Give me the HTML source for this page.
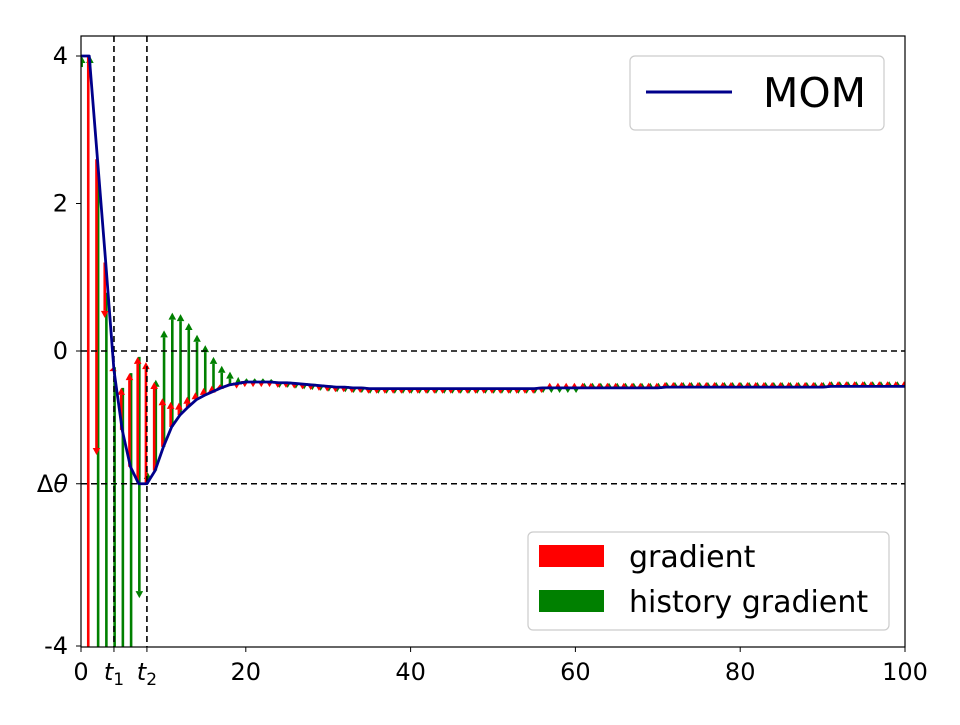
<!DOCTYPE html>
<html><head><meta charset="utf-8"><style>
body{margin:0;background:#fff;}
svg text{font-family:"DejaVu Sans","Liberation Sans",sans-serif;fill:#000;}
</style></head><body>
<svg id="chart" width="960" height="720" viewBox="0 0 960 720" xmlns="http://www.w3.org/2000/svg">
<defs><clipPath id="plotclip"><rect x="81" y="36" width="824" height="611"/></clipPath></defs>
<rect x="0" y="0" width="960" height="720" fill="#fff"/>
<g id="marks" clip-path="url(#plotclip)"></g>
<g id="axes"></g>
</svg>
<script>
const theta=[4,4,2.6,1.2,-0.26,-1.07,-1.57,-1.8,-1.8,-1.62,-1.3,-1.03,-0.87,-0.76,-0.66,-0.6,-0.55,-0.5,-0.46,-0.44,-0.42,
-0.42,-0.42,-0.42,-0.43,-0.43,-0.44,-0.45,-0.46,-0.47,-0.48,
-0.49,-0.49,-0.5,-0.5,-0.51,-0.51,-0.51,-0.51,-0.51,-0.51,
-0.51,-0.51,-0.51,-0.51,-0.51,-0.51,-0.51,-0.51,-0.51,-0.51,
-0.51,-0.51,-0.51,-0.51,-0.51,-0.5,-0.5,-0.5,-0.5,-0.5,
-0.5,-0.5,-0.5,-0.5,-0.5,-0.5,-0.5,-0.5,-0.5,-0.5,
-0.49,-0.49,-0.49,-0.49,-0.49,-0.49,-0.49,-0.49,-0.49,-0.49,
-0.49,-0.49,-0.49,-0.49,-0.49,-0.49,-0.49,-0.49,-0.49,-0.49,
-0.48,-0.48,-0.48,-0.48,-0.48,-0.48,-0.48,-0.48,-0.48,-0.48];
const gradientTo=[null,-5,-1.41,0.45,-0.22,-0.5,-0.3,-0.08,-0.15,-0.42,-0.64,-0.69,-0.7,-0.62,-0.56,-0.5,-0.47,-0.45,-0.44,-0.51,-0.49,
-0.49,-0.49,-0.49,-0.5,-0.5,-0.51,-0.52,-0.53,-0.54,-0.55,
-0.56,-0.56,-0.57,-0.57,-0.58,-0.58,-0.58,-0.58,-0.58,-0.58,
-0.58,-0.58,-0.58,-0.58,-0.58,-0.58,-0.58,-0.58,-0.58,-0.58,
-0.58,-0.58,-0.58,-0.58,-0.58,-0.57,-0.43,-0.43,-0.43,-0.43,
-0.43,-0.43,-0.43,-0.43,-0.43,-0.43,-0.43,-0.43,-0.43,-0.43,
-0.42,-0.42,-0.42,-0.42,-0.42,-0.42,-0.42,-0.42,-0.42,-0.42,
-0.42,-0.42,-0.42,-0.42,-0.42,-0.42,-0.42,-0.42,-0.42,-0.42,
-0.41,-0.41,-0.41,-0.41,-0.41,-0.41,-0.41,-0.41,-0.41,-0.41];
const historyFromEarly=[3.85,3.85,2.35,0.79,-0.22,-0.5,-0.3,-0.08];
const historyTo=[4,4,-5,-5,-5,-5,-5,-3.35,-1.64,-0.39,0.28,0.52,0.5,0.38,0.22,0.08,-0.08,-0.2,-0.28,-0.35,-0.37,
-0.37,-0.37,-0.38,-0.5,-0.5,-0.51,-0.52,-0.53,-0.54,-0.55,
-0.56,-0.56,-0.57,-0.57,-0.58,-0.58,-0.58,-0.58,-0.58,-0.58,
-0.58,-0.58,-0.58,-0.58,-0.58,-0.58,-0.58,-0.58,-0.58,-0.58,
-0.58,-0.58,-0.58,-0.58,-0.58,-0.57,-0.57,-0.57,-0.57,-0.57,
-0.43,-0.43,-0.43,-0.43,-0.43,-0.43,-0.43,-0.43,-0.43,-0.43,
-0.42,-0.42,-0.42,-0.42,-0.42,-0.42,-0.42,-0.42,-0.42,-0.42,
-0.42,-0.42,-0.42,-0.42,-0.42,-0.42,-0.42,-0.42,-0.42,-0.42,
-0.41,-0.41,-0.41,-0.41,-0.41,-0.41,-0.41,-0.41,-0.41,-0.41];
const deltaTheta=-1.8;
const xTickValues=[0,4,8,20,40,60,80,100];
const xTickLabels=["0","t1","t2","20","40","60","80","100"];
const yTickValues=[4,2,0,-1.8,-4];
const yTickLabels=["4","2","0","Δθ","-4"];

const NS="http://www.w3.org/2000/svg";
const X0=81,X1=905,Y0=36,Y1=647;
function sx(v){return X0+v*(X1-X0)/100;}
function sy(v){return 351-v*73.75;}
function mk(tag,attrs,parent){const e=document.createElementNS(NS,tag);for(const k in attrs)e.setAttribute(k,attrs[k]);parent.appendChild(e);return e;}
const marks=document.getElementById('marks');
const axes=document.getElementById('axes');

function arrow(xv,fromV,toV,color,name){
  const x=sx(xv),y1=sy(fromV),y2=sy(toV);
  const dir=y2<y1?-1:1;const hl=7,hw=3.8;
  const g=mk('g',{},marks);
  
  
  const len=Math.abs(y2-y1);
  if(len>hl){mk('line',{x1:x,y1:y1,x2:x,y2:y2-dir*hl,stroke:color,'stroke-width':2.6},g);}
  const hb=len>hl?y2-dir*hl:y1-dir*1;
  mk('polygon',{points:`${x-hw},${hb} ${x+hw},${hb} ${x},${y2}`,fill:color},g);
}
for(let i=0;i<theta.length;i++){
  if(historyTo[i]!==null){
    const f=i<historyFromEarly.length?historyFromEarly[i]:theta[i];
    arrow(i+0.08,f,historyTo[i],'#008000','history-gradient-arrow');
  }
  if(gradientTo[i]!==null){arrow(i-0.12,theta[i],gradientTo[i],'#ff0000','gradient-arrow');}
}
[[sx(0),sy(0),sx(100),sy(0),'zero-line'],[sx(0),sy(deltaTheta),sx(100),sy(deltaTheta),'delta-theta-line'],
 [sx(4),Y0,sx(4),Y1,'t1-line'],[sx(8),Y0,sx(8),Y1,'t2-line']].forEach(d=>{
  const l=mk('line',{x1:d[0],y1:d[1],x2:d[2],y2:d[3],stroke:'#000','stroke-width':1.6,'stroke-dasharray':'6,4'},marks);
  
  
});
const pts=theta.map((v,i)=>`${sx(i)},${sy(v)}`).join(' ');
const curve=mk('polyline',{points:pts,fill:'none',stroke:'#00008b','stroke-width':2.8,'stroke-linejoin':'round'},marks);


const fr=mk('rect',{x:X0,y:Y0,width:X1-X0,height:Y1-Y0,fill:'none',stroke:'#000','stroke-width':1.2},axes);


xTickValues.forEach((v,i)=>{
  const x=sx(v);
  const t=mk('line',{x1:x,y1:Y1,x2:x,y2:Y1+5,stroke:'#000','stroke-width':1},axes);
  
  
  const lab=xTickLabels[i];
  const tx=mk('text',{x:x,y:Y1+33,'text-anchor':'middle','font-size':'24'},axes);
  
  
  if(lab[0]==='t'){tx.setAttribute('font-style','italic');tx.textContent='t';const s=mk('tspan',{'font-style':'normal','font-size':'17',dy:'5'},tx);s.textContent=lab.slice(1);}
  else tx.textContent=lab;
});
yTickValues.forEach((v,i)=>{
  const y=sy(v);
  const t=mk('line',{x1:X0-5,y1:y,x2:X0,y2:y,stroke:'#000','stroke-width':1},axes);
  
  
  const tx=mk('text',{x:X0-13,y:y+8,'text-anchor':'end','font-size':'24'},axes);
  
  
  const lab=yTickLabels[i];
  if(lab==='Δθ'){tx.textContent='Δ';const s=mk('tspan',{'font-style':'italic'},tx);s.textContent='θ';}
  else tx.textContent=lab;
});
</script>
<svg style="position:absolute;left:0;top:0" width="960" height="720">
<g>
<rect x="630" y="56" width="254" height="74" rx="5" fill="#fff" fill-opacity="0.8" stroke="#ccc" stroke-width="1.2"/>
<line x1="646" y1="92" x2="732" y2="92" stroke="#00008b" stroke-width="3"/>
<text x="763" y="107" font-size="41" font-family="DejaVu Sans, Liberation Sans, sans-serif">MOM</text>
</g>
<g>
<rect x="528" y="532" width="361" height="98" rx="5" fill="#fff" fill-opacity="0.8" stroke="#ccc" stroke-width="1.2"/>
<rect x="539" y="545" width="65" height="22" fill="#ff0000"/>
<text x="629" y="567" font-size="30" font-family="DejaVu Sans, Liberation Sans, sans-serif">gradient</text>
<rect x="539" y="590" width="65" height="22" fill="#008000"/>
<text x="629" y="612" font-size="30" font-family="DejaVu Sans, Liberation Sans, sans-serif">history gradient</text>
</g>
</svg>
</body></html>
